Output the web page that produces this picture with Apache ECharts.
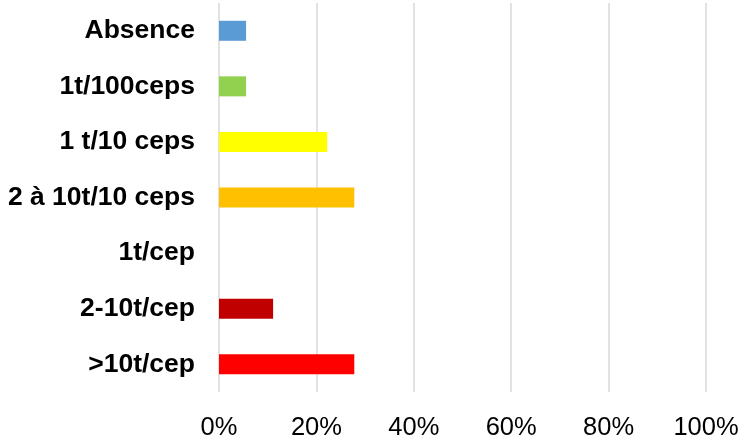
<!DOCTYPE html>
<html>
<head>
<meta charset="utf-8">
<script src="https://cdn.jsdelivr.net/npm/echarts@6/dist/echarts.min.js"></script>
<style>html,body{margin:0;padding:0;background:#fff}#c{width:742px;height:441px}</style>
</head>
<body>
<div id="c"></div>
<script>
const categories = ['Absence', '1t/100ceps', '1 t/10 ceps', '2 à 10t/10 ceps', '1t/cep', '2-10t/cep', '>10t/cep'];
const values = [5.56, 5.56, 22.22, 27.78, 0, 11.11, 27.78];
const barColors = ['#5B9BD5', '#92D050', '#FFFF00', '#FFC000', '#FF0000', '#C00000', '#FF0000'];
const xTicks = [0, 20, 40, 60, 80, 100];

const chart = echarts.init(document.getElementById('c'), null, {renderer: 'canvas'});
chart.setOption({
  animation: false,
  grid: {left: 219, right: 36, top: 3, bottom: 42, containLabel: false},
  xAxis: {
    type: 'value', min: xTicks[0], max: xTicks[xTicks.length - 1], interval: 20,
    axisLine: {show: false}, axisTick: {show: false},
    splitLine: {show: true, lineStyle: {color: '#D9D9D9', width: 1.5}},
    axisLabel: {formatter: v => v + '%', fontFamily: 'Liberation Sans, Arial, sans-serif', fontSize: 25.5, color: '#000', margin: 23}
  },
  yAxis: {
    type: 'category', data: categories, inverse: true,
    axisLine: {show: false}, axisTick: {show: false}, splitLine: {show: false},
    axisLabel: {fontFamily: 'Liberation Sans, Arial, sans-serif', fontSize: 26.5, fontWeight: 'bold', color: '#000', margin: 24}
  },
  series: [{
    type: 'bar', barWidth: 20,
    data: values.map((v, i) => ({value: v, itemStyle: {color: barColors[i]}}))
  }]
});
</script>
</body>
</html>
